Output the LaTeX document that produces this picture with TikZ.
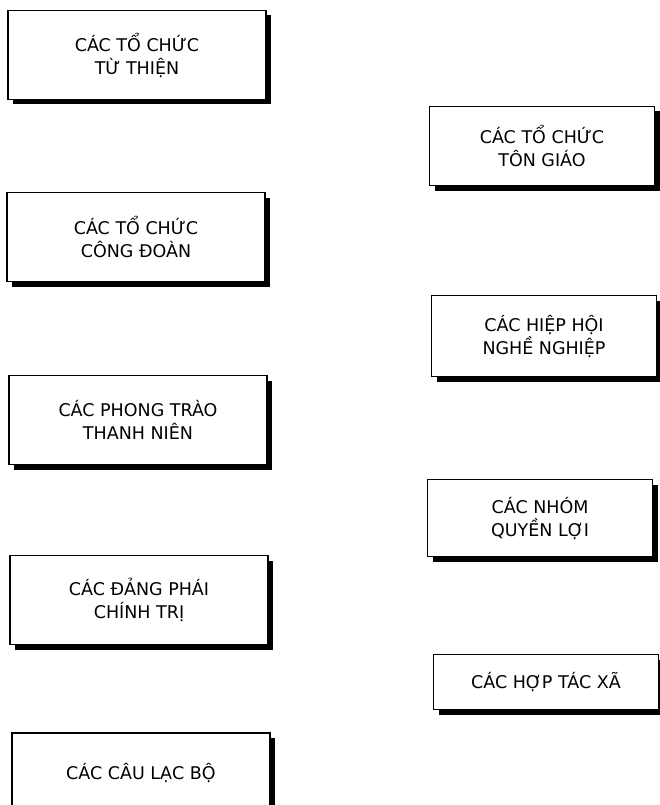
\documentclass[tikz,border=0pt]{standalone}
\usepackage{fontspec}
\setmainfont{DejaVu Sans}
\usetikzlibrary{shadows}

\begin{document}
\begin{tikzpicture}[
  x=1pt,y=-1pt,
  box/.style={draw, fill=white, line width=1.2pt, align=center, inner sep=0pt,
    font=\fontsize{17.5}{23}\selectfont,
    drop shadow={shadow xshift=5pt, shadow yshift=-5pt, fill=black, opacity=1}},
  lbox/.style={box, minimum width=258pt, minimum height=89pt},
  rbox/.style={box, minimum width=225pt, minimum height=79pt}
]
\useasboundingbox (0,0) rectangle (660,805);
\node[lbox] (tuthien) at (137,55) {CÁC TỔ CHỨC\\TỪ THIỆN};
\node[lbox] (congdoan) at (136,237) {CÁC TỔ CHỨC\\CÔNG ĐOÀN};
\node[lbox] (thanhnien) at (138,420) {CÁC PHONG TRÀO\\THANH NIÊN};
\node[lbox] (dangphai) at (139,600) {CÁC ĐẢNG PHÁI\\CHÍNH TRỊ};
\node[lbox, minimum height=80pt] (caulacbo) at (141,773) {CÁC CÂU LẠC BỘ};
\node[rbox] (tongiao) at (542,146) {CÁC TỔ CHỨC\\TÔN GIÁO};
\node[rbox, minimum height=81pt] (hiephoi) at (544,336) {CÁC HIỆP HỘI\\NGHỀ NGHIỆP};
\node[rbox, minimum height=77pt] (quyenloi) at (540,518) {CÁC NHÓM\\QUYỀN LỢI};
\node[rbox, minimum height=55pt] (hoptacxa) at (546,682) {CÁC HỢP TÁC XÃ};
\end{tikzpicture}
\end{document}
